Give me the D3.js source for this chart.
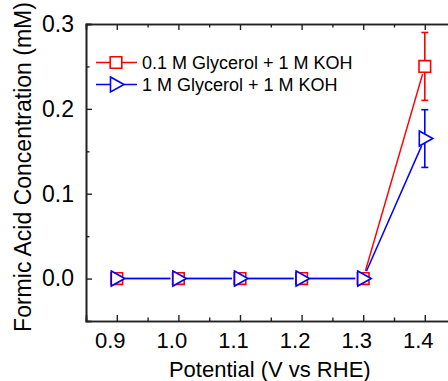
<!DOCTYPE html>
<html>
<head>
<meta charset="utf-8">
<script src="https://cdn.jsdelivr.net/npm/d3@7"></script>
<style>
html,body{margin:0;padding:0;background:#fff;}
svg{display:block;}
text{font-family:"Liberation Sans",Arial,sans-serif;fill:#000;}
</style>
</head>
<body>
<svg id="chart" width="448" height="381"></svg>
<script>
// ---- data ----
const potentials = [0.9, 1.0, 1.1, 1.2, 1.3, 1.4];
const glycerol01 = [0, 0, 0, 0, 0, 0.25];
const glycerol01Err = [0, 0, 0, 0, 0, 0.04];
const glycerol1 = [0, 0, 0, 0, 0, 0.165];
const glycerol1Err = [0, 0, 0, 0, 0, 0.034];
const seriesNames = ["0.1 M Glycerol + 1 M KOH", "1 M Glycerol + 1 M KOH"];
const xTicks = [0.9, 1.0, 1.1, 1.2, 1.3, 1.4];
const yTicks = [0.0, 0.1, 0.2, 0.3];
const xLabel = "Potential (V vs RHE)";
const yLabel = "Formic Acid Concentration (mM)";

const svg = d3.select("#chart");
const L = 86, T = 24, B = 321, R = 455.6;
const x = d3.scaleLinear().domain([0.85, 1.45]).range([L, R]);
const y = d3.scaleLinear().domain([-0.05, 0.3]).range([B, T]);

const axisColor = "#222";
const g = svg.append("g");

// minor ticks
const xMinor = d3.range(0.95, 1.45, 0.1).map(v => +v.toFixed(2));
const yMinor = [0.25, 0.15, 0.05];

// bottom axis (ticks inward)
const bottom = g.append("g").attr("transform", `translate(0,${B})`)
  .call(d3.axisBottom(x).tickValues(xTicks).tickSize(-6).tickFormat(d3.format(".1f")).tickPadding(11));
bottom.selectAll("text").style("font-size", "22px").attr("dy", "0.71em").attr("dx", -7);
g.append("g").attr("transform", `translate(0,${B})`)
  .call(d3.axisBottom(x).tickValues(xMinor).tickSize(-3.5).tickFormat(""));
// top axis
g.append("g").attr("transform", `translate(0,${T})`)
  .call(d3.axisTop(x).tickValues(xTicks).tickSize(-6).tickFormat(""));
g.append("g").attr("transform", `translate(0,${T})`)
  .call(d3.axisTop(x).tickValues(xMinor).tickSize(-3.5).tickFormat(""));
// left axis
const left = g.append("g").attr("transform", `translate(${L},0)`)
  .call(d3.axisLeft(y).tickValues(yTicks).tickSize(-6).tickFormat(d3.format(".1f")).tickPadding(12));
left.selectAll("text").style("font-size", "23px");
g.append("g").attr("transform", `translate(${L},0)`)
  .call(d3.axisLeft(y).tickValues(yMinor).tickSize(-3.5).tickFormat(""));
// right axis
g.append("g").attr("transform", `translate(${R},0)`)
  .call(d3.axisRight(y).tickValues(yTicks).tickSize(-6).tickFormat(""));

g.selectAll(".domain").attr("stroke", axisColor).attr("stroke-width", 1.6);
g.selectAll(".tick line").attr("stroke", axisColor).attr("stroke-width", 1.4);

// axis titles
svg.append("text").attr("x", (L + R) / 2 - 1).attr("y", 377)
  .attr("text-anchor", "middle").style("font-size", "22px").text(xLabel);
svg.append("text").attr("transform", "translate(31,167) rotate(-90)")
  .attr("text-anchor", "middle").style("font-size", "23px").text(yLabel);

// marker shapes
const squarePath = "M-5.8,-5.8H5.8V5.8H-5.8Z";
const triPath = "M-5.5,-7.5L8,0L-5.5,7.5Z";

function drawSeries(vals, errs, color, shape) {
  const pts = potentials.map((p, i) => ({x: x(p), y: y(vals[i]), v: vals[i], e: errs[i], p}));
  // line segments with gaps at markers
  const gap = 8;
  for (let i = 0; i < pts.length - 1; i++) {
    const a = pts[i], b = pts[i + 1];
    const dx = b.x - a.x, dy = b.y - a.y, len = Math.hypot(dx, dy);
    const ux = dx / len, uy = dy / len;
    svg.append("line")
      .attr("x1", a.x + ux * gap).attr("y1", a.y + uy * gap)
      .attr("x2", b.x - ux * gap).attr("y2", b.y - uy * gap)
      .attr("stroke", color).attr("stroke-width", 1.5);
  }
  // error bars
  pts.filter(d => d.e > 0).forEach(d => {
    const gE = svg.append("g").attr("stroke", color).attr("stroke-width", 1.6);
    gE.append("line").attr("x1", d.x).attr("x2", d.x).attr("y1", y(d.v + d.e)).attr("y2", y(d.v - d.e));
    gE.append("line").attr("x1", d.x - 3.5).attr("x2", d.x + 3.5).attr("y1", y(d.v + d.e)).attr("y2", y(d.v + d.e));
    gE.append("line").attr("x1", d.x - 3.5).attr("x2", d.x + 3.5).attr("y1", y(d.v - d.e)).attr("y2", y(d.v - d.e));
  });
  svg.append("g").selectAll("path").data(pts).join("path")
    .attr("d", shape).attr("transform", d => `translate(${d.x},${d.y})`)
    .attr("fill", "#fff").attr("stroke", color).attr("stroke-width", 1.6);
}

drawSeries(glycerol01, glycerol01Err, "#ff0000", squarePath);
drawSeries(glycerol1, glycerol1Err, "#0000ff", triPath);

// legend
const legend = [
  {name: seriesNames[0], color: "#ff0000", shape: squarePath, y: 62.5},
  {name: seriesNames[1], color: "#0000ff", shape: triPath, y: 84.5}
];
legend.forEach(l => {
  svg.append("line").attr("x1", 96).attr("x2", 137).attr("y1", l.y).attr("y2", l.y)
    .attr("stroke", l.color).attr("stroke-width", 1.5);
  svg.append("path").attr("d", l.shape).attr("transform", `translate(116,${l.y})`)
    .attr("fill", "#fff").attr("stroke", l.color).attr("stroke-width", 1.6);
  svg.append("text").attr("x", 142).attr("y", l.y).attr("dy", "0.35em")
    .style("font-size", "18px").text(l.name);
});
</script>
</body>
</html>
